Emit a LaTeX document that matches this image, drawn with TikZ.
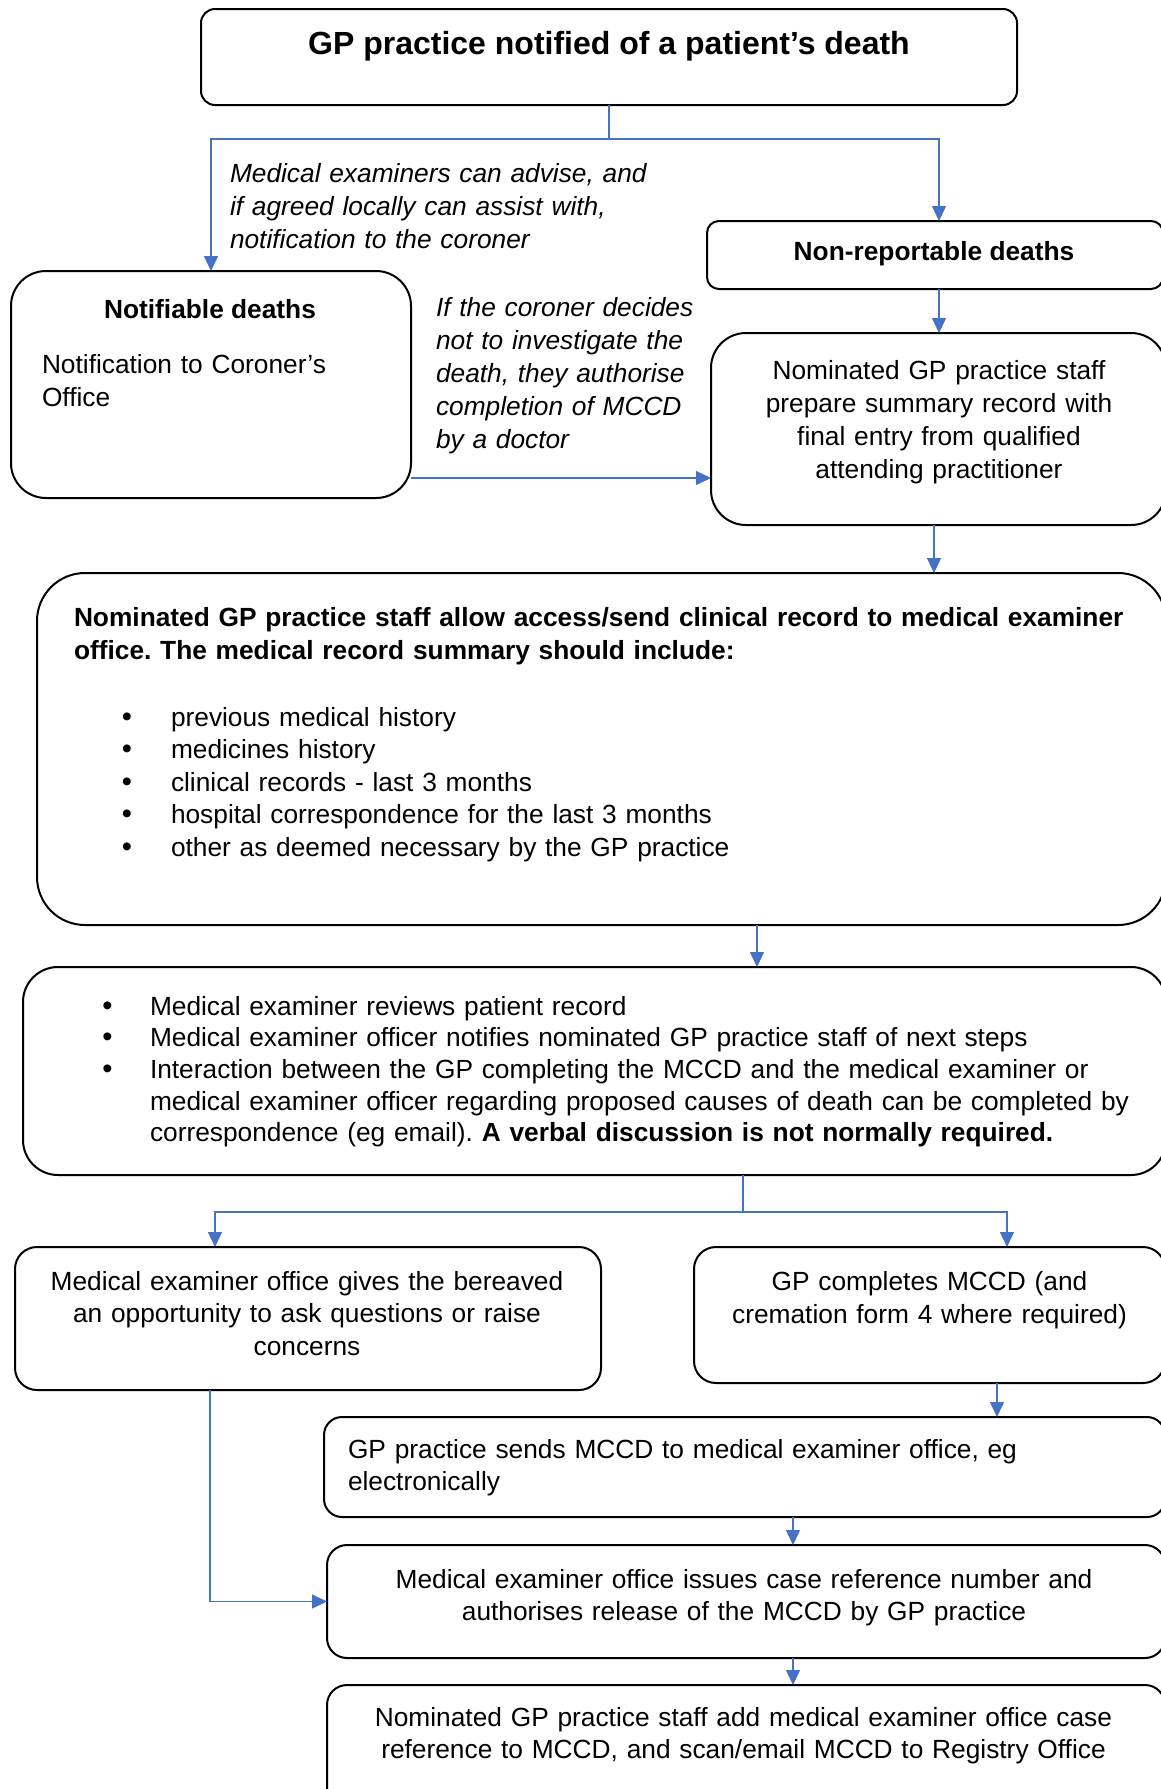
\documentclass[tikz,border=0pt]{standalone}
\usepackage{fontspec}
\setmainfont{Liberation Sans}
\usetikzlibrary{arrows.meta,calc}
\definecolor{arrblue}{RGB}{68,114,196}
\newcommand{\bul}[1]{\leavevmode\llap{{\fontsize{29}{29}\selectfont •}\hspace{#1}}}
\begin{document}
\frenchspacing
\begin{tikzpicture}[x=1pt,y=-1pt,
  box/.style={draw=black, line width=2pt, rounded corners=#1, inner sep=0pt, outer sep=0pt},
  box/.default=20pt,
  arr/.style={draw=arrblue, line width=1.3pt, -{Triangle[length=15pt,width=14pt]}},
  ln/.style={draw=arrblue, line width=1.3pt},
  txt/.style={inner sep=0pt, outer sep=0pt, font=\fontsize{26.3}{33}\selectfont},
  txtw/.style={txt, text width=#1},
  ttl/.style={inner sep=0pt, outer sep=0pt, font=\fontsize{32}{38}\selectfont\bfseries}
]
\useasboundingbox (0,0) rectangle (1161,1789);
\clip (0,0) rectangle (1161,1789);
\fill[white] (0,0) rectangle (1161,1789);

% ---------- boxes ----------
\node[box=14pt, minimum width=816pt, minimum height=96pt] (top) at (609,57) {};
\node[box=35pt, minimum width=400pt, minimum height=227pt] (notif) at (211,384.5) {};
\node[box=12pt, minimum width=456pt, minimum height=68pt] (nonrep) at (935,255) {};
\node[box=35pt, minimum width=455pt, minimum height=192pt] (nom) at (938.5,429) {};
\node[box=48pt, minimum width=1129pt, minimum height=352pt] (big) at (601.5,749) {};
\node[box=35pt, minimum width=1143pt, minimum height=208pt] (mer) at (594.5,1071) {};
\node[box=22pt, minimum width=586pt, minimum height=143pt] (bereaved) at (308,1318.5) {};
\node[box=22pt, minimum width=471pt, minimum height=136pt] (gpcomp) at (929.5,1315) {};
\node[box=18pt, minimum width=841pt, minimum height=100pt] (sends) at (744.5,1467) {};
\node[box=20pt, minimum width=838pt, minimum height=113pt] (issues) at (746,1601.5) {};
\node[box=20pt, minimum width=838pt, minimum height=145pt] (final) at (746,1757.5) {};

% ---------- texts ----------
\node[ttl, anchor=base] (ttitle) at (609,54) {GP practice notified of a patient’s death};

\node[txtw=420pt, align=left, anchor=base west, font=\fontsize{26.3}{33}\selectfont\itshape] (tadvise) at (230,182)
  {Medical examiners can advise, and\\if agreed locally can assist with,\\notification to the coroner};

\node[txt, anchor=base, font=\fontsize{26.3}{33}\selectfont\bfseries] (tnotif) at (210,318) {Notifiable deaths};
\node[txtw=360pt, align=left, anchor=base west] (tnotif2) at (42,373) {Notification to Coroner’s\\Office};

\node[txt, anchor=base, font=\fontsize{26.3}{33}\selectfont\bfseries] (tnonrep) at (934,260) {Non-reportable deaths};

\node[txtw=280pt, align=left, anchor=base west, font=\fontsize{26.3}{33}\selectfont\itshape] (tcoroner) at (436,316)
  {If the coroner decides\\not to investigate the\\death, they authorise\\completion of MCCD\\by a doctor};

\node[txtw=440pt, align=center, anchor=base] (tnom) at (939,379)
  {Nominated GP practice staff\\prepare summary record with\\final entry from qualified\\attending practitioner};

\node[txtw=1080pt, align=left, anchor=base west, font=\fontsize{26.3}{33}\selectfont\bfseries] (tbig) at (74,626)
  {Nominated GP practice staff allow access/send clinical record to medical examiner\\office. The medical record summary should include:};

\node[txtw=900pt, align=left, anchor=base west, font=\fontsize{26.3}{32.5}\selectfont] (tbiglist) at (171,726)
  {\bul{38.9pt}previous medical history\\
   \bul{38.9pt}medicines history\\
   \bul{38.9pt}clinical records - last 3 months\\
   \bul{38.9pt}hospital correspondence for the last 3 months\\
   \bul{38.9pt}other as deemed necessary by the GP practice};

\node[txtw=1000pt, align=left, anchor=base west, font=\fontsize{26.3}{31.7}\selectfont] (tmer) at (150,1015)
  {\bul{37.4pt}Medical examiner reviews patient record\\
   \bul{37.4pt}Medical examiner officer notifies nominated GP practice staff of next steps\\
   \bul{37.4pt}Interaction between the GP completing the MCCD and the medical examiner or\\
   medical examiner officer regarding proposed causes of death can be completed by\\
   correspondence (eg email). \textbf{A verbal discussion is not normally required.}};

\node[txtw=570pt, align=center, anchor=base, font=\fontsize{26.3}{32.5}\selectfont] (tbereaved) at (307,1290)
  {Medical examiner office gives the bereaved\\an opportunity to ask questions or raise\\concerns};

\node[txtw=460pt, align=center, anchor=base] (tgpcomp) at (929.5,1290)
  {GP completes MCCD (and\\cremation form 4 where required)};

\node[txtw=800pt, align=left, anchor=base west, font=\fontsize{26.3}{32}\selectfont] (tsends) at (348,1458)
  {GP practice sends MCCD to medical examiner office, eg\\electronically};

\node[txtw=820pt, align=center, anchor=base, font=\fontsize{26.3}{32}\selectfont] (tissues) at (744,1588)
  {Medical examiner office issues case reference number and\\authorises release of the MCCD by GP practice};

\node[txtw=820pt, align=center, anchor=base, font=\fontsize{26.3}{31.5}\selectfont] (tfinal) at (743.5,1726.7)
  {Nominated GP practice staff add medical examiner office case\\reference to MCCD, and scan/email MCCD to Registry Office};

% ---------- connectors ----------
\coordinate (j1) at (609,139);
\coordinate (xr1) at (939,0);
\coordinate (yl) at (0,478);
\coordinate (x934) at (934,0);
\coordinate (x757) at (757,0);
\coordinate (j2) at (743,1212);
\coordinate (x215) at (215,0);
\coordinate (x1007) at (1007,0);
\coordinate (x997) at (997,0);
\coordinate (x210) at (210,0);
\coordinate (x793) at (793,0);

\draw[arr] (top.south) -- (j1) -| (notif.north);
\draw[arr] (j1) -| (nonrep.north -| xr1);
\draw[arr] (nonrep.south -| xr1) -- (nom.north -| xr1);
\draw[arr] (notif.east |- yl) -- (nom.west |- yl);
\draw[arr] (nom.south -| x934) -- (big.north -| x934);
\draw[arr] (big.south -| x757) -- (mer.north -| x757);
\draw[ln] (mer.south -| j2) -- (j2);
\draw[arr] (j2) -| (bereaved.north -| x215);
\draw[arr] (j2) -| (gpcomp.north -| x1007);
\draw[arr] (gpcomp.south -| x997) -- (sends.north -| x997);
\draw[arr] (bereaved.south -| x210) |- (issues.west);
\draw[arr] (sends.south -| x793) -- (issues.north -| x793);
\draw[arr] (issues.south -| x793) -- (final.north -| x793);
\end{tikzpicture}
\end{document}
